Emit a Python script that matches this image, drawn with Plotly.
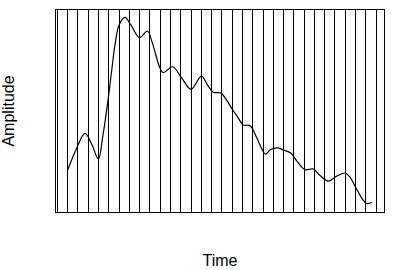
import plotly.graph_objects as go

# Time samples (grid units) and amplitude values
time = [0.0, 0.8, 1.68, 2.37, 2.98, 3.43, 3.95, 4.31, 4.6, 5.0, 5.57, 6.15,
        6.98, 7.76, 8.2, 8.5, 8.9, 9.3, 10.2, 11.1, 12.0, 13.0, 13.65, 14.16,
        14.9, 15.4, 16.0, 16.6, 17.07, 17.75, 18.4, 19.24, 19.68, 20.33, 21.0,
        21.7, 22.3, 23.07, 23.9, 24.5, 25.35, 26.2, 26.97, 27.45, 28.05, 28.6,
        29.1, 29.6]
amplitude = [0.208, 0.307, 0.389, 0.332, 0.262, 0.381, 0.564, 0.713, 0.827,
             0.926, 0.963, 0.926, 0.864, 0.896, 0.842, 0.792, 0.723, 0.690,
             0.719, 0.663, 0.607, 0.673, 0.624, 0.593, 0.589, 0.559, 0.510,
             0.465, 0.431, 0.427, 0.366, 0.286, 0.307, 0.317, 0.307, 0.292,
             0.252, 0.210, 0.213, 0.183, 0.153, 0.178, 0.193, 0.173, 0.119,
             0.069, 0.042, 0.048]

x_title = "Time"
y_title = "Amplitude"

fig = go.Figure()
fig.add_trace(go.Scatter(
    x=time, y=amplitude, mode="lines",
    line=dict(color="black", width=1.2, shape="spline", smoothing=1.0),
    showlegend=False,
))

font = dict(family="Liberation Sans, Arial, sans-serif", size=16, color="black")

fig.update_layout(
    width=404, height=270,
    margin=dict(l=56, r=20, t=10, b=58),
    paper_bgcolor="white", plot_bgcolor="white",
    font=font,
    xaxis=dict(
        range=[-1.138, 30.77], tick0=0, dtick=1,
        showgrid=True, gridcolor="black", gridwidth=1,
        showticklabels=False, ticks="", zeroline=False,
        showline=True, linecolor="black", linewidth=1, mirror=True,
        automargin=False,
        title=dict(text=x_title, font=font, standoff=42),
    ),
    yaxis=dict(
        range=[0, 1],
        showgrid=False, showticklabels=False, ticks="", zeroline=False,
        showline=True, linecolor="black", linewidth=1, mirror=True,
        automargin=False,
        title=dict(text=y_title, font=font, standoff=36),
    ),
)

fig.write_html("out.html")
